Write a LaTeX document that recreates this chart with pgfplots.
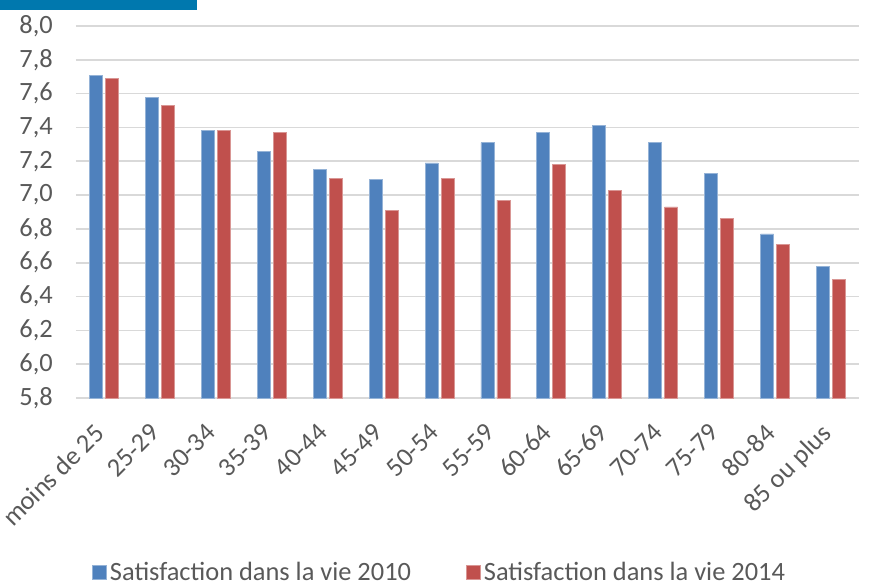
\documentclass[border=0pt]{standalone}
\usepackage{fontspec}
\setmainfont{Carlito}
\usepackage{pgfplots}
\pgfplotsset{compat=1.18}

\definecolor{s2010}{HTML}{4F81BD}
\definecolor{s2014}{HTML}{C0504D}
\definecolor{txt}{HTML}{595959}
\definecolor{gridc}{HTML}{D9D9D9}
\definecolor{banner}{HTML}{0078AE}

\pgfplotstableread{
idx v2010 v2014
0  7.71 7.69
1  7.58 7.53
2  7.38 7.38
3  7.26 7.37
4  7.15 7.10
5  7.09 6.91
6  7.19 7.10
7  7.31 6.97
8  7.37 7.18
9  7.41 7.03
10 7.31 6.93
11 7.13 6.86
12 6.77 6.71
13 6.58 6.50
}\satisf

\begin{document}
\begin{tikzpicture}
\fontsize{13.2}{15}\selectfont
\path[use as bounding box] (0,0) rectangle (440pt,-293pt);
\fill[banner] (0,0) rectangle (98.5pt,-5pt);
\begin{axis}[
  at={(38pt,-199pt)}, anchor=south west,
  scale only axis, width=391.5pt, height=186pt,
  ybar=1.5pt, bar width=6.5pt,
  xmin=-0.5, xmax=13.5, ymin=5.8, ymax=8.0,
  xtick={0,...,13},
  xticklabels={moins de 25,25-29,30-34,35-39,40-44,45-49,50-54,55-59,60-64,65-69,70-74,75-79,80-84,85 ou plus},
  ytick={5.8,6.0,...,8.01},
  /pgf/number format/.cd, use comma, fixed, fixed zerofill, precision=1, assume math mode=true,
  /pgfplots/.cd,
  major tick length=0pt,
  axis line style={draw=none},
  ymajorgrids, grid style={gridc, line width=0.8pt},
  tick label style={text=txt, font=\fontsize{13.2}{15}\selectfont},
  yticklabel style={xshift=-7pt},
  xticklabel style={rotate=45, anchor=north east, xshift=-8pt, yshift=0pt},
  legend style={at={(0.465,-0.47)}, anchor=center, draw=none, fill=none,
    legend columns=2, font=\fontsize{13.2}{15}\selectfont, text=txt,
    nodes={inner sep=1.5pt},
    /tikz/every even column/.append style={column sep=26pt}},
  legend image code/.code={\fill[#1] (0pt,-3.5pt) rectangle (7pt,3.5pt);},
]
\addplot[fill=s2010, draw=s2010!60!white, line width=0.4pt] table[x=idx, y=v2010] {\satisf};
\addplot[fill=s2014, draw=s2014!60!white, line width=0.4pt] table[x=idx, y=v2014] {\satisf};
\legend{Satisfaction dans la vie 2010, Satisfaction dans la vie 2014}
\end{axis}
\end{tikzpicture}
\end{document}
